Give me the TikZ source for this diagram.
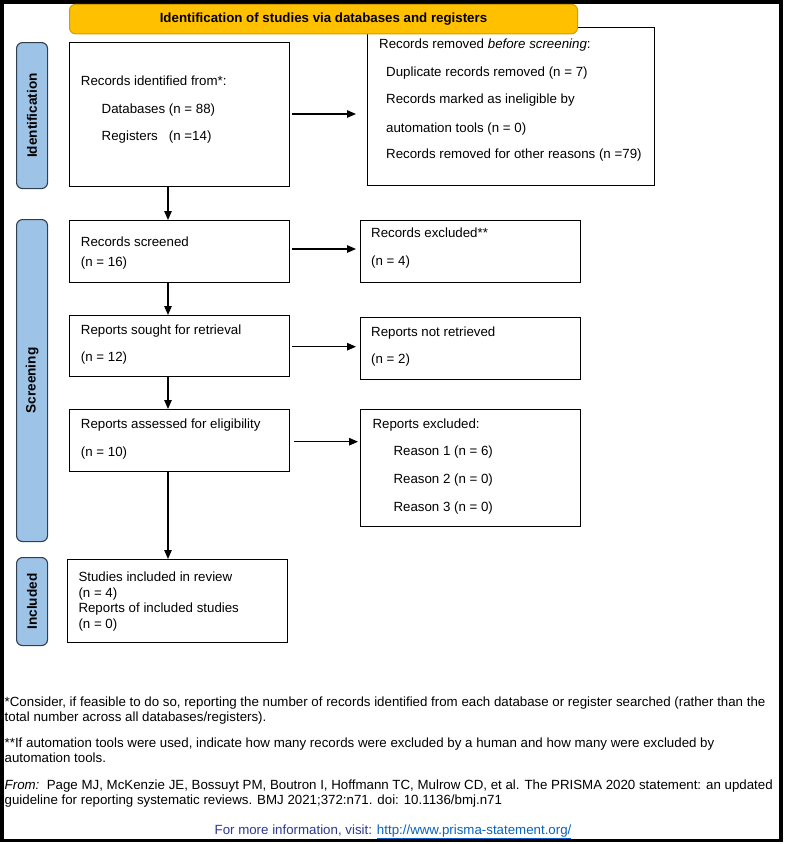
\documentclass[tikz,border=0pt]{standalone}
\usepackage{fontspec}
\setmainfont{Liberation Sans}
\usetikzlibrary{arrows.meta}
\definecolor{hdrfill}{HTML}{FFC000}
\definecolor{hdrdraw}{HTML}{D09E00}
\definecolor{lblfill}{HTML}{9DC3E6}
\definecolor{lbldraw}{HTML}{2F3E52}
\definecolor{navy}{HTML}{2B3990}
\definecolor{linkblue}{HTML}{0563C1}
\begin{document}
\begin{tikzpicture}[x=1pt,y=-1pt,
  box/.style={draw=black, line width=1.2pt, inner sep=0pt, anchor=north west},
  lbl/.style={draw=lbldraw, fill=lblfill, line width=1.1pt, rounded corners=6pt, inner sep=0pt, anchor=north west, minimum width=31pt},
  sidetxt/.style={inner sep=0pt, rotate=90, font=\fontsize{13.6}{16}\selectfont\bfseries},
  txt/.style={inner sep=0pt, anchor=base west, font=\fontsize{13.3}{16}\selectfont},
  foot/.style={inner sep=0pt, anchor=base west, font=\fontsize{13.3}{16}\selectfont},
  arr/.style={line width=1.2pt, -{Triangle[length=9pt,width=7.5pt]}},
  ]
\useasboundingbox (0,0) rectangle (786,844);
\draw[line width=3.6pt] (2,1.7) rectangle (781,840.5);

% boxes
\node[box, minimum width=220pt, minimum height=144pt] (ident) at (69,42) {};
\node[box, minimum width=287pt, minimum height=158pt] (removed) at (367,27) {};
\node[box, minimum width=220pt, minimum height=62pt] (screened) at (69,220) {};
\node[box, minimum width=220pt, minimum height=62pt] (excl) at (360,220) {};
\node[box, minimum width=220pt, minimum height=61pt] (sought) at (69,315) {};
\node[box, minimum width=220pt, minimum height=62pt] (notret) at (360,317) {};
\node[box, minimum width=220pt, minimum height=62pt] (assessed) at (69,409) {};
\node[box, minimum width=220pt, minimum height=117pt] (repexcl) at (360,409) {};
\node[box, minimum width=220pt, minimum height=83pt] (included) at (67,559) {};

% header
\node[draw=hdrdraw, fill=hdrfill, line width=1pt, rounded corners=6pt, inner sep=0pt, anchor=north west,
  minimum width=508pt, minimum height=29.5pt, font=\fontsize{13.3}{16}\selectfont\bfseries] (hdr) at (69,3.8)
  {Identification of studies via databases and registers};

% side labels
\node[lbl, minimum height=146pt] (lid) at (16,42) {};
\node[sidetxt] (lidt) at (lid.center) {Identification};
\node[lbl, minimum height=322pt] (lsc) at (16,219) {};
\node[sidetxt] (lsct) at (lsc.center) {Screening};
\node[lbl, minimum height=88pt] (lin) at (16,557) {};
\node[sidetxt] (lint) at (lin.center) {Included};

% texts
\node[txt] (t1a) at (80.7,85.5) {Records identified from*:};
\node[txt] (t1b) at (101.5,113.5) {Databases (n = 88)};
\node[txt] (t1c) at (101.5,140.5) {Registers\ \ \ (n =14)};

\node[txt] (t2a) at (379,48.8) {Records removed \textit{before screening}:};
\node[txt] (t2b) at (386,76.8) {Duplicate records removed (n = 7)};
\node[txt] (t2c) at (386,103.8) {Records marked as ineligible by};
\node[txt] (t2d) at (386,132.2) {automation tools (n = 0)};
\node[txt] (t2e) at (386,158.8) {Records removed for other reasons (n =79)};

\node[txt] (t3a) at (80.7,246.8) {Records screened};
\node[txt] (t3b) at (80.7,266.2) {(n = 16)};
\node[txt] (t4a) at (371,237.8) {Records excluded**};
\node[txt] (t4b) at (371,265.5) {(n = 4)};

\node[txt] (t5a) at (80.7,334.5) {Reports sought for retrieval};
\node[txt] (t5b) at (80.7,361.2) {(n = 12)};
\node[txt] (t6a) at (371,336.2) {Reports not retrieved};
\node[txt] (t6b) at (371,363.8) {(n = 2)};

\node[txt] (t7a) at (80.7,428.5) {Reports assessed for eligibility};
\node[txt] (t7b) at (80.7,456.8) {(n = 10)};
\node[txt] (t8a) at (372.3,428.5) {Reports excluded:};
\node[txt] (t8b) at (393.3,455.2) {Reason 1 (n = 6)};
\node[txt] (t8c) at (393.3,483.5) {Reason 2 (n = 0)};
\node[txt] (t8d) at (393.3,511.2) {Reason 3 (n = 0)};

\node[txt] (t9a) at (78.3,581.2) {Studies included in review};
\node[txt] (t9b) at (78.3,597.2) {(n = 4)};
\node[txt] (t9c) at (78.3,612.2) {Reports of included studies};
\node[txt] (t9d) at (78.3,628.5) {(n = 0)};

% arrows
\coordinate (ax) at (168,0);
\draw[arr] (ax |- ident.south) -- (ax |- screened.north);
\draw[arr] (ax |- screened.south) -- (ax |- sought.north);
\draw[arr] (ax |- sought.south) -- (ax |- assessed.north);
\draw[arr] (ax |- assessed.south) -- (ax |- included.north);

\coordinate (h1) at (0,114);
\coordinate (h2) at (0,249);
\coordinate (h3) at (0,346.7);
\coordinate (h4) at (0,441.7);
\draw[arr, shorten <=2pt, shorten >=11pt] (ident.east |- h1) -- (removed.west |- h1);
\draw[arr, shorten <=2pt, shorten >=4pt] (screened.east |- h2) -- (excl.west |- h2);
\draw[arr, shorten <=2pt, shorten >=4pt] (sought.east |- h3) -- (notret.west |- h3);
\draw[arr, shorten <=4pt, shorten >=2pt] (assessed.east |- h4) -- (repexcl.west |- h4);

% footer
\node[foot] (f1) at (4.5,706.2) {*Consider, if feasible to do so, reporting the number of records identified from each database or register searched (rather than the};
\node[foot] (f2) at (4.5,721.2) {total number across all databases/registers).};
\node[foot] (f3) at (4.5,747.5) {**If automation tools were used, indicate how many records were excluded by a human and how many were excluded by};
\node[foot] (f4) at (4.5,762.5) {automation tools.};
\node[foot] (f5) at (4.5,789.5) {\textit{From:}\ \ Page MJ, McKenzie JE, Bossuyt PM, Boutron I, Hoffmann TC, Mulrow CD, et al. The PRISMA 2020 statement: an updated};
\node[foot] (f6) at (4.5,804.5) {guideline for reporting systematic reviews. BMJ 2021;372:n71. doi: 10.1136/bmj.n71};
\node[inner sep=0pt, anchor=base, font=\fontsize{13.3}{16}\selectfont] (f7) at (393,834.5) {\textcolor{navy}{For more information, visit:} \textcolor{linkblue}{\underline{http://www.prisma-statement.org/}}};
\end{tikzpicture}
\end{document}
